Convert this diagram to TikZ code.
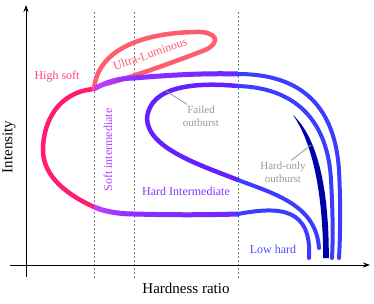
\documentclass[tikz,border=0pt]{standalone}
\usepackage{fontspec}
\setmainfont{Liberation Serif}
\usetikzlibrary{arrows.meta,positioning}
\definecolor{highsoft}{HTML}{FF1A72}
\definecolor{highsofttxt}{HTML}{FF4088}
\definecolor{ultralum}{HTML}{FF5C6E}
\definecolor{softint}{HTML}{C23CFF}
\definecolor{softinttxt}{HTML}{B040FF}
\definecolor{hardint}{HTML}{8C30FF}
\definecolor{hardintb}{HTML}{6C28FF}
\definecolor{hardinttxt}{HTML}{7E38FF}
\definecolor{failed}{HTML}{6420FF}
\definecolor{lowhard}{HTML}{3C3CFF}
\definecolor{lowhardtxt}{HTML}{4B4BFF}
\definecolor{hardonly}{HTML}{0000A8}
\definecolor{note}{HTML}{999999}

\begin{document}
\begin{tikzpicture}[x=1pt,y=-1pt,
  track/.style={line width=5pt,line cap=round},
  strand/.style={line width=4pt,line cap=round,lowhard},
  divider/.style={gray,line width=0.8pt,dash pattern=on 2pt off 2pt},
  axis/.style={line width=1pt,-{Stealth[length=7pt,width=5pt]}},
  lbl/.style={font=\fontsize{12}{14}\selectfont},
  notelbl/.style={font=\fontsize{11}{13}\selectfont,note,align=center,inner sep=1pt},
  leader/.style={note,line width=0.8pt}]
  \useasboundingbox (0,0) rectangle (374,303);

  \coordinate (J1) at (94,89);
  \coordinate (J2) at (94,207);
  \coordinate (T1) at (134,78);
  \coordinate (T2) at (238,74);
  \coordinate (B1) at (134,214);
  \coordinate (B2) at (238,214);
  \coordinate (F1) at (238,86);
  \coordinate (F2) at (238,180);

  \foreach \x in {94,134,238}
    \draw[divider] (\x,12) -- (\x,279);

  \draw[axis] (26,277) -- (26,5);
  \draw[axis] (10,265) -- (370,265);
  \node[font=\fontsize{15}{17}\selectfont] (xlabel) at (186,288) {Hardness ratio};
  \node[font=\fontsize{15}{17}\selectfont,rotate=90] (ylabel) at (9,147) {Intensity};

  % high soft branch
  \draw[track,highsoft,line width=4.5pt] (J1) .. controls (58,92) and (43,122) .. (43,150)
    .. controls (43,178) and (70,196) .. (J2);

  % ultra-luminous excursion
  \draw[track,ultralum,line width=4.5pt] (J1) .. controls (98,48) and (145,33) .. (195,32)
    .. controls (218,31) and (221,43) .. (205,50) .. controls (172,63) and (126,79) .. (106,84);

  % soft intermediate
  \foreach \i in {0,...,7}{
    \pgfmathtruncatemacro{\pct}{100-100*\i/7}
    \begin{scope}
      \clip (94+5*\i,0) rectangle (99.4+5*\i,303);
      \draw[track,softint!\pct!hardint] (J1) .. controls (106,82) and (120,78) .. (T1);
      \draw[track,softint!\pct!hardint] (J2) .. controls (106,212) and (120,214) .. (B1);
    \end{scope}
  }

  % hard intermediate
  \foreach \i in {0,...,7}{
    \pgfmathtruncatemacro{\pct}{100-100*\i/7}
    \begin{scope}
      \clip (134+13*\i,0) rectangle (147.4+13*\i,303);
      \draw[track,hardint!\pct!hardintb] (T1) .. controls (170,75) and (205,73) .. (T2);
      \draw[track,hardint!\pct!hardintb] (B1) .. controls (170,215) and (205,215) .. (B2);
    \end{scope}
  }

  % failed outburst
  \draw[track,failed,line width=4.5pt] (F1) .. controls (195,82) and (150,86) .. (147,118)
    .. controls (147,148) and (200,165) .. (F2);

  % low hard strands
  \draw[strand] (T2) .. controls (305,74) and (335,110) .. (339,170)
    .. controls (341,210) and (340,240) .. (339,258);
  \draw[strand] (F1) .. controls (300,88) and (328,125) .. (331,180)
    .. controls (333,215) and (333,240) .. (332,258);
  \draw[strand] (F2) .. controls (275,194) and (316,205) .. (319,248);
  \draw[strand] (B2) .. controls (280,206) and (312,208) .. (309,258);

  % hard-only outburst
  \fill[hardonly] (293,115) .. controls (318,138) and (329,190) .. (328.8,258)
    -- (323.2,258) .. controls (323,192) and (312,142) .. (293,115) -- cycle;

  \node[lbl,highsofttxt] (hslbl) at (57,77) {High soft};
  \node[lbl,ultralum,rotate=19,inner sep=1pt] (ullbl) at (150,54) {Ultra-Luminous};
  \node[lbl,softinttxt,rotate=90] (silbl) at (108,150) {Soft intermediate};
  \node[lbl,hardinttxt] (hilbl) at (186,191) {Hard Intermediate};
  \node[lbl,lowhardtxt] (lhlbl) at (273,249) {Low hard};

  \coordinate (fpt) at (166,91);
  \coordinate (hpt) at (311,145);
  \node[notelbl] (failedlbl) at (201,116) {Failed\\outburst};
  \node[notelbl] (hardlbl) at (283,172) {Hard-only\\outburst};
  \draw[leader] (failedlbl.140) -- (fpt);
  \draw[leader] (hardlbl.55) -- (hpt);
\end{tikzpicture}
\end{document}
